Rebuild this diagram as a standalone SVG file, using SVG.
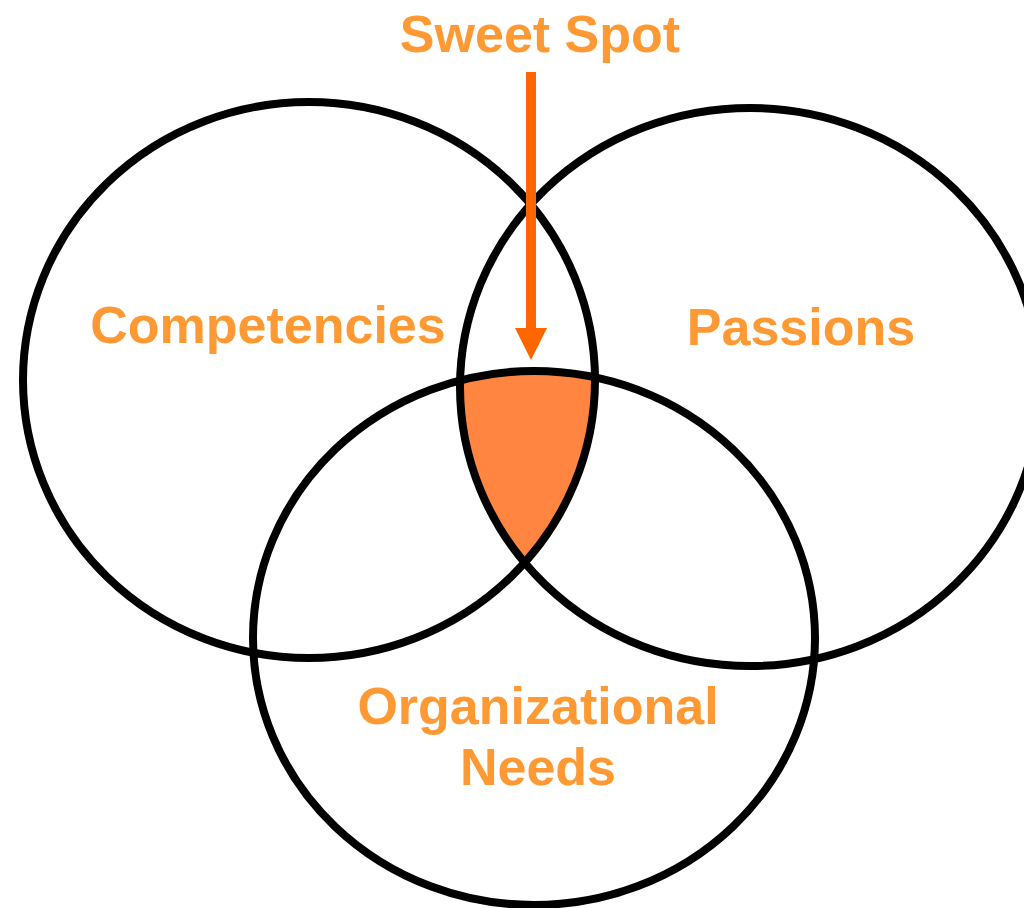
<svg xmlns="http://www.w3.org/2000/svg" width="1024" height="908" viewBox="0 0 1024 908">
<style>
.ring{fill:none;stroke:#000;stroke-width:8}
.lbl{font-family:"Liberation Sans",Arial,sans-serif;font-weight:bold;font-size:52px;fill:#FF9933;text-anchor:middle}
</style>
<defs>
<clipPath id="clipL"><ellipse cx="309" cy="380" rx="286" ry="278"/></clipPath>
<clipPath id="clipR"><ellipse cx="750" cy="387" rx="290" ry="279"/></clipPath>
<marker id="ah" viewBox="0 0 10 10" refX="0" refY="5" markerWidth="3.2" markerHeight="3.2" markerUnits="strokeWidth" orient="auto">
<path d="M0,0 L10,5 L0,10 z" fill="#FF6600"/>
</marker>
</defs>
<rect width="1024" height="908" fill="#fff"/>
<g id="sweet-spot" clip-path="url(#clipL)">
<g clip-path="url(#clipR)">
<ellipse cx="534" cy="638" rx="281" ry="267" fill="#FF8540"/>
</g>
</g>
<g id="competencies">
<ellipse class="ring" cx="309" cy="380" rx="286" ry="278"/>
<text class="lbl" x="268" y="343">Competencies</text>
</g>
<g id="passions">
<ellipse class="ring" cx="750" cy="387" rx="290" ry="279"/>
<text class="lbl" x="801" y="345">Passions</text>
</g>
<g id="organizational-needs">
<ellipse class="ring" cx="534" cy="638" rx="281" ry="267"/>
<text class="lbl" x="538" y="724">Organizational</text>
<text class="lbl" x="538" y="785">Needs</text>
</g>
<g id="sweet-spot-label">
<text class="lbl" x="540" y="52">Sweet Spot</text>
</g>
<g id="connectors">
<line x1="531" y1="72" x2="531" y2="328" stroke="#FF6600" stroke-width="10" marker-end="url(#ah)"/>
</g>
</svg>
